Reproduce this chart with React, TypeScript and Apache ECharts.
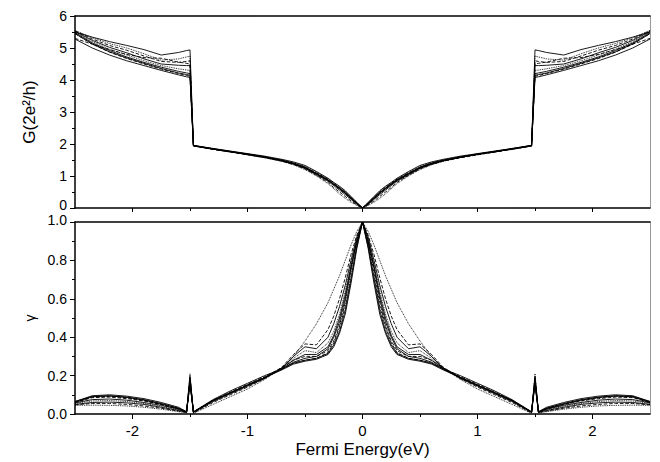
import React, { useEffect, useRef } from "react";
import * as echarts from "echarts";

// Fermi energy sample points (eV), E >= 0; curves are symmetric about E = 0
const ENERGY = [0, 0.05, 0.1, 0.15, 0.2, 0.25, 0.3, 0.4, 0.5, 0.6, 0.7, 0.85, 1.0, 1.15, 1.3, 1.47, 1.5, 1.53, 1.6, 1.75, 1.9, 2.05, 2.2, 2.35, 2.5];

// Conductance G (2e^2/h)
const G_1 = [0, 0.15, 0.32, 0.48, 0.62, 0.75, 0.88, 1.08, 1.28, 1.4, 1.49, 1.59, 1.68, 1.76, 1.84, 1.94, 4.08, 4.1, 4.16, 4.3, 4.45, 4.6, 4.78, 5.0, 5.28];
const G_2 = [0, 0.16, 0.33, 0.5, 0.64, 0.77, 0.9, 1.1, 1.27, 1.39, 1.48, 1.58, 1.67, 1.75, 1.83, 1.94, 4.12, 4.14, 4.2, 4.34, 4.5, 4.67, 4.87, 5.12, 5.45];
const G_3 = [0, 0.14, 0.3, 0.46, 0.6, 0.74, 0.86, 1.06, 1.25, 1.38, 1.48, 1.6, 1.69, 1.77, 1.85, 1.95, 4.2, 4.22, 4.27, 4.4, 4.55, 4.72, 4.92, 5.16, 5.48];
const G_4 = [0, 0.17, 0.35, 0.52, 0.66, 0.78, 0.9, 1.12, 1.3, 1.42, 1.5, 1.6, 1.68, 1.76, 1.84, 1.95, 4.3, 4.31, 4.35, 4.45, 4.6, 4.78, 4.96, 5.2, 5.5];
const G_5 = [0, 0.12, 0.27, 0.42, 0.56, 0.7, 0.84, 1.04, 1.24, 1.37, 1.47, 1.58, 1.67, 1.76, 1.85, 1.96, 4.45, 4.45, 4.46, 4.5, 4.66, 4.85, 5.02, 5.24, 5.52];
const G_6 = [0, 0.1, 0.22, 0.36, 0.5, 0.64, 0.8, 1.02, 1.22, 1.36, 1.46, 1.57, 1.66, 1.75, 1.84, 1.95, 4.6, 4.58, 4.55, 4.58, 4.75, 4.93, 5.08, 5.28, 5.54];
const G_7 = [0, 0.08, 0.18, 0.3, 0.44, 0.6, 0.76, 1.0, 1.2, 1.35, 1.46, 1.58, 1.68, 1.77, 1.86, 1.96, 4.75, 4.72, 4.66, 4.62, 4.82, 5.0, 5.14, 5.32, 5.55];
const G_8 = [0, 0.18, 0.36, 0.54, 0.68, 0.8, 0.93, 1.14, 1.33, 1.44, 1.52, 1.62, 1.7, 1.78, 1.86, 1.95, 4.94, 4.92, 4.86, 4.78, 4.95, 5.08, 5.2, 5.34, 5.5];
const G_9 = [0, 0.13, 0.29, 0.45, 0.6, 0.73, 0.87, 1.07, 1.27, 1.4, 1.49, 1.59, 1.68, 1.76, 1.84, 1.94, 4.5, 4.52, 4.56, 4.68, 4.7, 4.8, 4.95, 5.12, 5.3];
const G_10 = [0, 0.15, 0.31, 0.47, 0.61, 0.74, 0.87, 1.07, 1.26, 1.39, 1.48, 1.59, 1.68, 1.76, 1.84, 1.94, 4.15, 4.17, 4.22, 4.36, 4.52, 4.69, 4.88, 5.13, 5.45];

// gamma
const GAMMA_1 = [1.0, 0.86, 0.68, 0.52, 0.42, 0.35, 0.31, 0.285, 0.275, 0.26, 0.23, 0.19, 0.15, 0.11, 0.07, 0.01, 0.17, 0.01, 0.03, 0.055, 0.075, 0.088, 0.094, 0.09, 0.06];
const GAMMA_2 = [1.0, 0.88, 0.72, 0.56, 0.45, 0.37, 0.32, 0.29, 0.28, 0.265, 0.235, 0.19, 0.15, 0.11, 0.07, 0.01, 0.16, 0.01, 0.025, 0.05, 0.07, 0.085, 0.092, 0.088, 0.062];
const GAMMA_3 = [1.0, 0.9, 0.76, 0.6, 0.48, 0.4, 0.34, 0.3, 0.29, 0.27, 0.235, 0.19, 0.15, 0.11, 0.07, 0.01, 0.18, 0.012, 0.03, 0.052, 0.072, 0.086, 0.095, 0.092, 0.065];
const GAMMA_4 = [1.0, 0.91, 0.78, 0.64, 0.52, 0.43, 0.37, 0.32, 0.33, 0.29, 0.24, 0.19, 0.15, 0.11, 0.068, 0.008, 0.17, 0.01, 0.02, 0.04, 0.055, 0.065, 0.07, 0.068, 0.055];
const GAMMA_5 = [1.0, 0.92, 0.8, 0.67, 0.56, 0.47, 0.4, 0.34, 0.35, 0.3, 0.24, 0.185, 0.145, 0.105, 0.065, 0.008, 0.19, 0.01, 0.018, 0.035, 0.05, 0.058, 0.062, 0.06, 0.05];
const GAMMA_6 = [1.0, 0.93, 0.83, 0.71, 0.6, 0.51, 0.44, 0.36, 0.365, 0.31, 0.245, 0.185, 0.14, 0.1, 0.06, 0.005, 0.2, 0.008, 0.015, 0.03, 0.042, 0.05, 0.055, 0.055, 0.048];
const GAMMA_7 = [1.0, 0.95, 0.88, 0.8, 0.72, 0.65, 0.58, 0.47, 0.38, 0.3, 0.24, 0.18, 0.13, 0.09, 0.05, 0.004, 0.21, 0.006, 0.012, 0.025, 0.035, 0.042, 0.045, 0.046, 0.045];
const GAMMA_8 = [1.0, 0.87, 0.7, 0.54, 0.43, 0.36, 0.315, 0.29, 0.28, 0.265, 0.235, 0.2, 0.16, 0.12, 0.075, 0.012, 0.15, 0.012, 0.035, 0.06, 0.08, 0.093, 0.1, 0.095, 0.065];
const GAMMA_9 = [1.0, 0.89, 0.74, 0.58, 0.46, 0.38, 0.33, 0.3, 0.3, 0.28, 0.24, 0.195, 0.155, 0.115, 0.072, 0.01, 0.17, 0.01, 0.028, 0.05, 0.068, 0.08, 0.088, 0.085, 0.06];
const GAMMA_10 = [1.0, 0.9, 0.77, 0.62, 0.5, 0.41, 0.35, 0.31, 0.31, 0.28, 0.238, 0.19, 0.15, 0.11, 0.07, 0.01, 0.18, 0.01, 0.025, 0.045, 0.06, 0.072, 0.078, 0.075, 0.058];

const G_CURVES = [G_1, G_2, G_3, G_4, G_5, G_6, G_7, G_8, G_9, G_10];
const GAMMA_CURVES = [GAMMA_1, GAMMA_2, GAMMA_3, GAMMA_4, GAMMA_5, GAMMA_6, GAMMA_7, GAMMA_8, GAMMA_9, GAMMA_10];

const X_MAJOR = [-2, -1, 0, 1, 2];
const X_MINOR = [-1.5, -0.5, 0.5, 1.5];

const LINE_TYPES = ["solid", "dashed", "solid", "dotted", "solid", "dashed", "dotted", "solid", "dashed", "solid"];

const FONT = "'Liberation Sans', Arial, sans-serif";

function mirror(vals: number[]): number[][] {
  const pts: number[][] = [];
  for (let i = ENERGY.length - 1; i >= 1; i--) pts.push([-ENERGY[i], vals[i]]);
  for (let i = 0; i < ENERGY.length; i++) pts.push([ENERGY[i], vals[i]]);
  return pts;
}

export default function App() {
  const ref = useRef<HTMLDivElement>(null);
  useEffect(() => {
    if (!ref.current) return;
    const chart = echarts.init(ref.current, null, { renderer: "svg" });
    const black = "#000";
    const gray = "#999";
    const baseX = (grid: number) => ({
      type: "value",
      gridIndex: grid,
      min: -2.5,
      max: 2.5,
      splitLine: { show: false },
    });
    const xAxes: any[] = [
      {
        ...baseX(0),
        position: "bottom",
        axisLine: { show: true, onZero: false, lineStyle: { color: black, width: 1.5 } },
        axisTick: { show: true, customValues: X_MAJOR, length: 4, lineStyle: { color: black, width: 1 } },
        axisLabel: { show: false },
      },
      {
        ...baseX(0),
        position: "bottom",
        axisLine: { show: false, onZero: false },
        axisTick: { show: true, customValues: X_MINOR, length: 3, lineStyle: { color: black, width: 1 } },
        axisLabel: { show: false },
      },
      {
        ...baseX(0),
        position: "top",
        axisLine: { show: true, onZero: false, lineStyle: { color: black, width: 1.5 } },
        axisTick: { show: false },
        axisLabel: { show: false },
      },
      {
        ...baseX(1),
        position: "bottom",
        axisLine: { show: true, onZero: false, lineStyle: { color: black, width: 1.5 } },
        axisTick: { show: true, customValues: X_MAJOR, length: 5, lineStyle: { color: black, width: 1 } },
        axisLabel: {
          show: true,
          customValues: X_MAJOR,
          margin: 9,
          color: black,
          fontSize: 15,
          fontFamily: FONT,
          formatter: (v: number) => String(v),
        },
        name: "Fermi Energy(eV)",
        nameLocation: "middle",
        nameGap: 27,
        nameTextStyle: { color: black, fontSize: 17, fontFamily: FONT },
      },
      {
        ...baseX(1),
        position: "bottom",
        axisLine: { show: false, onZero: false },
        axisTick: { show: true, customValues: X_MINOR, length: 3, lineStyle: { color: black, width: 1 } },
        axisLabel: { show: false },
      },
      {
        ...baseX(1),
        position: "top",
        axisLine: { show: true, onZero: false, lineStyle: { color: black, width: 1.5 } },
        axisTick: { show: false },
        axisLabel: { show: false },
      },
    ];
    const yAxes: any[] = [
      {
        type: "value",
        gridIndex: 0,
        position: "left",
        min: 0,
        max: 6,
        interval: 1,
        splitLine: { show: false },
        axisLine: { show: true, onZero: false, lineStyle: { color: black, width: 1.5 } },
        axisTick: { show: true, length: 5, lineStyle: { color: black, width: 1 } },
        minorTick: { show: true, splitNumber: 2, length: 3, lineStyle: { color: black, width: 1 } },
        axisLabel: {
          margin: 8,
          color: black,
          fontSize: 14,
          lineHeight: 12,
          fontFamily: FONT,
          formatter: (v: number) => (v === 0 ? "{low|0}" : String(v)),
          rich: { low: { fontSize: 14, lineHeight: 12, fontFamily: FONT, color: black, padding: [0, 0, 6, 0] } },
        },
        name: "G(2e²/h)",
        nameLocation: "middle",
        nameRotate: 90,
        nameGap: 37,
        nameTextStyle: { color: black, fontSize: 17, fontFamily: FONT },
      },
      {
        type: "value",
        gridIndex: 0,
        position: "right",
        min: 0,
        max: 6,
        splitLine: { show: false },
        axisLine: { show: true, onZero: false, lineStyle: { color: gray, width: 1 } },
        axisTick: { show: false },
        axisLabel: { show: false },
      },
      {
        type: "value",
        gridIndex: 1,
        position: "left",
        min: 0,
        max: 1,
        interval: 0.2,
        splitLine: { show: false },
        axisLine: { show: true, onZero: false, lineStyle: { color: black, width: 1.5 } },
        axisTick: { show: true, length: 5, lineStyle: { color: black, width: 1 } },
        minorTick: { show: true, splitNumber: 2, length: 3, lineStyle: { color: black, width: 1 } },
        axisLabel: {
          margin: 8,
          color: black,
          fontSize: 14,
          lineHeight: 12,
          fontFamily: FONT,
          formatter: (v: number) => (v === 1 ? "{up|1.0}" : v.toFixed(1)),
          rich: { up: { fontSize: 14, lineHeight: 12, fontFamily: FONT, color: black, padding: [0, 0, 5, 0] } },
        },
        name: "γ",
        nameLocation: "middle",
        nameRotate: 90,
        nameGap: 38,
        nameTextStyle: { color: black, fontSize: 14, fontFamily: FONT },
      },
      {
        type: "value",
        gridIndex: 1,
        position: "right",
        min: 0,
        max: 1,
        splitLine: { show: false },
        axisLine: { show: true, onZero: false, lineStyle: { color: gray, width: 1 } },
        axisTick: { show: false },
        axisLabel: { show: false },
      },
    ];
    const series: any[] = [];
    G_CURVES.forEach((c, i) => {
      series.push({
        type: "line",
        xAxisIndex: 0,
        yAxisIndex: 0,
        data: mirror(c),
        symbol: "none",
        silent: true,
        lineStyle: { color: black, width: 0.9, type: LINE_TYPES[i], opacity: 1 },
      });
    });
    GAMMA_CURVES.forEach((c, i) => {
      series.push({
        type: "line",
        xAxisIndex: 3,
        yAxisIndex: 2,
        data: mirror(c),
        symbol: "none",
        silent: true,
        lineStyle: { color: black, width: 0.9, type: LINE_TYPES[i], opacity: 1 },
      });
    });
    chart.setOption({
      animation: false,
      backgroundColor: "#fff",
      grid: [
        { left: 75, right: 10, top: 16, height: 192 },
        { left: 75, right: 10, top: 222, height: 192 },
      ],
      xAxis: xAxes,
      yAxis: yAxes,
      series,
    });
    return () => chart.dispose();
  }, []);
  return (
    <div
      ref={ref}
      style={{ position: "fixed", left: 0, top: 0, width: 660, height: 462, background: "#fff" }}
    />
  );
}
